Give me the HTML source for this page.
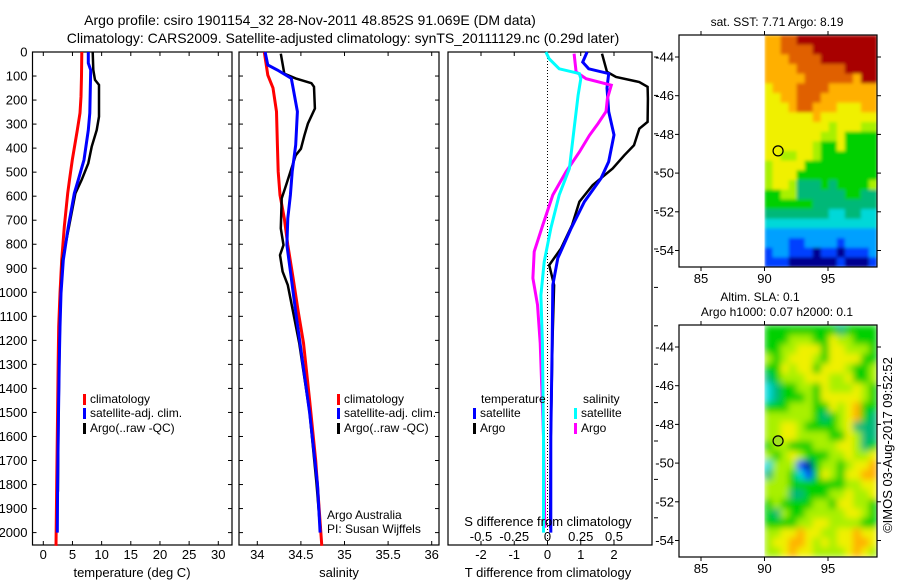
<!DOCTYPE html>
<html><head><meta charset="utf-8"><style>
html,body{margin:0;padding:0;background:#fff;}
svg{display:block;font-family:"Liberation Sans",sans-serif;}
text{fill:#000;}
</style></head><body>
<svg id="fig" width="900" height="580" viewBox="0 0 900 580" xmlns="http://www.w3.org/2000/svg">
<defs>
<filter id="blurS" x="0" y="0" width="1" height="1"><feGaussianBlur stdDeviation="1.5" edgeMode="duplicate"/></filter>
<filter id="blurL" x="0" y="0" width="1" height="1"><feGaussianBlur stdDeviation="3.5" edgeMode="duplicate"/></filter>
</defs>
<text x="310" y="25" font-size="14" text-anchor="middle">Argo profile: csiro 1901154_32 28-Nov-2011 48.852S 91.069E (DM data)</text>
<text x="343" y="43" font-size="14" text-anchor="middle">Climatology: CARS2009. Satellite-adjusted climatology: synTS_20111129.nc (0.29d later)</text>
<g id="g1"></g>
<g id="g2"></g>
<g id="g3"></g>
<g id="m1"></g>
<g id="m2"></g>
<text transform="translate(892,445) rotate(-90)" font-size="13" text-anchor="middle">©IMOS 03-Aug-2017 09:52:52</text>
</svg>
<script>
// ---- data ----
const depthTicks = [0,100,200,300,400,500,600,700,800,900,1000,1100,1200,1300,1400,1500,1600,1700,1800,1900,2000];
const tempTicks = [0,5,10,15,20,25,30];
const salTicks = [34,34.5,35,35.5,36];
const dTTicks = [-2,-1,0,1,2];
const dSTicks = [-0.5,-0.25,0,0.25,0.5];
const dSTickLabels = ["-0.5","-0.25","0","0.25","0.5"];
const latTicks = [-44,-46,-48,-50,-52,-54];
const lonTicks = [85,90,95];

const climTdepth = [0,100,186,254,325,449,532,588,727,866,1004,1143,1282,1500,1800,2055];
const climT = [6.6,6.55,6.46,6.29,5.83,4.98,4.5,4.18,3.6,3.15,2.86,2.64,2.55,2.45,2.3,2.18];
const satTdepth = [0,46,75,254,325,449,532,588,727,866,1004,1143,1282,1500,1800,2000];
const satT = [7.72,7.72,8.12,7.98,7.72,6.98,6.0,5.32,4.29,3.43,3.03,2.86,2.75,2.6,2.45,2.4];
const argoTdepth = [0,75,116,137,269,325,394,463,532,588,727,866,1004,1143,1500,1830];
const argoT = [8.47,8.58,8.86,9.55,9.55,9.15,8.3,7.72,6.58,5.5,4.4,3.3,3.0,2.85,2.6,2.5];

const climSdepth = [0,96,150,248,387,498,595,692,803,941,1082,1211,1448,1700,2055];
const climS = [34.08,34.12,34.18,34.22,34.23,34.24,34.26,34.31,34.35,34.41,34.47,34.53,34.60,34.67,34.74];
const satSdepth = [0,54,75,110,150,248,387,498,595,692,803,941,1082,1211,1500,1800,2000];
const satS = [34.09,34.12,34.23,34.39,34.41,34.46,34.44,34.40,34.38,34.35,34.34,34.39,34.44,34.49,34.6,34.69,34.72];
const argoSdepth = [7,90,110,130,145,235,298,347,403,430,498,554,609,734,803,845,914,970,1082,1211,1500,1800,1980];
const argoS = [34.27,34.31,34.44,34.62,34.65,34.66,34.58,34.54,34.50,34.44,34.38,34.33,34.28,34.27,34.30,34.26,34.29,34.35,34.41,34.48,34.6,34.68,34.72];

const satDTdepth = [0,42,70,90,150,248,345,456,526,623,734,858,970,1211,1600,2000];
const satDT = [1.19,1.06,1.24,1.84,1.79,1.84,2.0,1.84,1.61,1.11,0.71,0.31,0.16,0.14,0.1,0.1];
const argoDTdepth = [7,83,104,125,145,194,291,319,388,430,485,554,623,720,817,887,970,1200,1600,1980];
const argoDT = [1.64,1.79,2.06,2.76,3.01,3.02,3.01,2.76,2.6,2.31,1.96,1.36,0.96,0.74,0.41,0.05,0.2,0.15,0.1,0.08];
const satDSdepth = [0,28,70,90,111,180,319,485,595,734,873,1012,1211,1600,2000];
const satDS = [-0.012,0.012,0.088,0.24,0.25,0.23,0.2,0.165,0.088,0.025,-0.025,-0.05,-0.038,-0.03,-0.03];
const argoDSdepth = [7,83,111,138,194,248,298,347,416,498,595,720,831,941,1052,1211,1600,1980];
const argoDS = [0.2,0.215,0.29,0.48,0.45,0.44,0.38,0.315,0.24,0.14,0.04,-0.035,-0.1,-0.11,-0.075,-0.055,-0.03,-0.02];

const sstRows = [
"8899AAAAAAAAAA","889999AAAAAAAA","8889999AAAAAAA","8888999999AAAA",
"888889999998AA","78889999888888","77889998888888","77789988877788",
"77777787777777","77777777677766","77777776675555","77777765575555",
"77667765555555","67777555555555","67775555555555","67764445455556",
"55664444445544","55555544444444","44444444334433","33333333333333",
"22222222222222","22211222212222","12211101101112","11100000010001"];
const slaRows = [
"55555555545555","55566655766555","55667775776665","65677765777755",
"55767757776556","45666777667556","34556657666765","34555657777765",
"55566655767855","66666654567854","66776555567444","66776666557644",
"56655566677645","65676555667667","36661056656778","46653157657788",
"66655555556677","66644555667667","56555566577665","54655666667765",
"55556677666655","66778776677877","67788767677887","66787766667876"];
const floatLon = 91.069, floatLat = -48.852;

// ---- helpers ----
const NS="http://www.w3.org/2000/svg";
function mk(parent,tag,attrs,txt){const e=document.createElementNS(NS,tag);for(const k in attrs)e.setAttribute(k,attrs[k]);if(txt!==undefined)e.textContent=txt;parent.appendChild(e);return e;}
const TOP=52, BOT=545;
const yD = d => TOP + 0.2403*d;
const xT = t => 43.3 + 5.833*t;
const xS = s => 257.3 + 87.2*(s-34);
const xDT = v => 547.5 + 33.25*v;
const xDS = v => 547.5 + 33.25*4*v;

function frame(g,x0,x1,name){
  const r=mk(g,'rect',{x:x0,y:TOP,width:x1-x0,height:BOT-TOP,fill:'none',stroke:'#000','stroke-width':1.2});
  
  
}
function yTicks(g,x0,x1,labels){
  depthTicks.forEach(d=>{
    const y=yD(d);
    mk(g,'line',{x1:x0,x2:x0+4,y1:y,y2:y,stroke:'#000'});
    mk(g,'line',{x1:x1,x2:x1-4,y1:y,y2:y,stroke:'#000'});
    if(labels){const t=mk(g,'text',{x:x0-5,y:y+4.5,'font-size':13,'text-anchor':'end'},String(d));
      
      }
  });
}
function xTicks(g,vals,fx,labels,ly){
  vals.forEach((v,i)=>{
    const x=fx(v);
    mk(g,'line',{x1:x,x2:x,y1:TOP,y2:TOP+4,stroke:'#000'});
    mk(g,'line',{x1:x,x2:x,y1:BOT,y2:BOT-4,stroke:'#000'});
    const t=mk(g,'text',{x:x,y:ly,'font-size':13,'text-anchor':'middle'},labels?labels[i]:String(v));
    
    
  });
}
function series(g,depths,vals,fx,color,w,name){
  const pts=depths.map((d,i)=>fx(vals[i]).toFixed(1)+','+yD(d).toFixed(1)).join(' ');
  const p=mk(g,'polyline',{points:pts,fill:'none',stroke:color,'stroke-width':w,'stroke-linejoin':'miter'});
  
  
}
function legendEntry(g,x,y,color,label){
  const r=mk(g,'rect',{x:x,y:y-9,width:3,height:11,fill:color});
  
  
  const t=mk(g,'text',{x:x+7,y:y,'font-size':12},label);
  
  
}

// ---- panel 1 ----
const g1=document.getElementById('g1');
frame(g1,32.5,232,'temperature-axes');
yTicks(g1,32.5,232,true);
xTicks(g1,tempTicks,xT,null,559);
series(g1,climTdepth,climT,xT,'#ff0000',3,'climatology-temperature-line');
series(g1,argoTdepth,argoT,xT,'#000000',2.5,'argo-temperature-line');
series(g1,satTdepth,satT,xT,'#0000ff',3,'satellite-temperature-line');
let t=mk(g1,'text',{x:132,y:577,'font-size':13,'text-anchor':'middle'},'temperature (deg C)');


legendEntry(g1,83,403,'#ff0000','climatology');
legendEntry(g1,83,417,'#0000ff','satellite-adj. clim.');
legendEntry(g1,83,432,'#000000','Argo(..raw -QC)');

// ---- panel 2 ----
const g2=document.getElementById('g2');
frame(g2,239,439,'salinity-axes');
yTicks(g2,239,439,false);
xTicks(g2,salTicks,xS,null,559);
series(g2,climSdepth,climS,xS,'#ff0000',3,'climatology-salinity-line');
series(g2,argoSdepth,argoS,xS,'#000000',2.5,'argo-salinity-line');
series(g2,satSdepth,satS,xS,'#0000ff',3,'satellite-salinity-line');
t=mk(g2,'text',{x:339,y:577,'font-size':13,'text-anchor':'middle'},'salinity');


legendEntry(g2,337,403,'#ff0000','climatology');
legendEntry(g2,337,417,'#0000ff','satellite-adj. clim.');
legendEntry(g2,337,432,'#000000','Argo(..raw -QC)');
t=mk(g2,'text',{x:327,y:519,'font-size':12},'Argo Australia');


t=mk(g2,'text',{x:327,y:533,'font-size':12},'PI: Susan Wijffels');



// ---- panel 3 ----
const g3=document.getElementById('g3');
frame(g3,448,652,'difference-axes');
for(let y=57;y<545;y+=38.4){mk(g3,'line',{x1:654,x2:658,y1:y,y2:y,stroke:'#000'});}
xTicks(g3,dTTicks,xDT,null,559);
const zl=mk(g3,'line',{x1:xDT(0),x2:xDT(0),y1:TOP,y2:BOT,stroke:'#000','stroke-dasharray':'1,2'});


dSTicks.forEach((v,i)=>{
  const tt=mk(g3,'text',{x:xDS(v),y:541,'font-size':13,'text-anchor':'middle'},dSTickLabels[i]);
  
  
});
series(g3,argoDTdepth,argoDT,xDT,'#000000',2.5,'argo-t-difference-line');
series(g3,satDTdepth,satDT,xDT,'#0000ff',3,'satellite-t-difference-line');
series(g3,argoDSdepth,argoDS,xDS,'#ff00ff',3,'argo-s-difference-line');
series(g3,satDSdepth,satDS,xDS,'#00ffff',3,'satellite-s-difference-line');
t=mk(g3,'text',{x:548,y:526,'font-size':13,'text-anchor':'middle'},'S difference from climatology');


t=mk(g3,'text',{x:548,y:577,'font-size':13,'text-anchor':'middle'},'T difference from climatology');


t=mk(g3,'text',{x:481,y:403,'font-size':12},'temperature');


t=mk(g3,'text',{x:583,y:403,'font-size':12},'salinity');


legendEntry(g3,473,417,'#0000ff','satellite');
legendEntry(g3,473,432,'#000000','Argo');
legendEntry(g3,574,417,'#00ffff','satellite');
legendEntry(g3,574,432,'#ff00ff','Argo');

// ---- maps ----
const pal={'0':'#000090','1':'#0040ff','2':'#00a0ff','3':'#00d8d8','4':'#00b878','5':'#00d000','6':'#a8f000','7':'#f0f000','8':'#ffb000','9':'#e06000','A':'#a80000'};
function drawMap(g,top,rows,title1,title2,circleFill,name,blurId){
  const L=679,R=877,B=top+232;
  const lonX=lon=>701+(lon-85)*12.7;
  const latY=lat=>top+22+(-44-lat)*19.35;
  const dx0=lonX(90), cw=(R-dx0)/rows[0].length, ch=(B-top)/rows.length;
  const cg=mk(g,'g',{filter:'url(#'+blurId+')'});
  
  
  rows.forEach((row,ri)=>{
    for(let ci=0;ci<row.length;ci++){
      const c=mk(cg,'rect',{x:(dx0+ci*cw).toFixed(2),y:(top+ri*ch).toFixed(2),width:(cw+0.5).toFixed(2),height:(ch+0.5).toFixed(2),fill:pal[row[ci]]});
      
      
    }
  });
  const fr=mk(g,'rect',{x:L,y:top,width:R-L,height:B-top,fill:'none',stroke:'#000','stroke-width':1.2});
  
  
  lonTicks.forEach(lon=>{
    const x=lonX(lon);
    mk(g,'line',{x1:x,x2:x,y1:top,y2:top-4,stroke:'#000'});
    mk(g,'line',{x1:x,x2:x,y1:B,y2:B+4,stroke:'#000'});
    const tt=mk(g,'text',{x:x,y:B+16,'font-size':13,'text-anchor':'middle'},String(lon));
    
    
  });
  latTicks.forEach(lat=>{
    const y=latY(lat);
    mk(g,'line',{x1:L,x2:L-4,y1:y,y2:y,stroke:'#000'});
    mk(g,'line',{x1:R,x2:R+4,y1:y,y2:y,stroke:'#000'});
    const tt=mk(g,'text',{x:L-5,y:y+4.5,'font-size':13,'text-anchor':'end'},String(lat));
    
    
  });
  const ci=mk(g,'circle',{cx:lonX(floatLon),cy:latY(floatLat),r:5,fill:circleFill,stroke:'#000','stroke-width':1.2});
  
  
  if(title2){
    let a=mk(g,'text',{x:760,y:top-24,'font-size':12,'text-anchor':'middle'},title1);
    
    
    a=mk(g,'text',{x:777,y:top-9,'font-size':12,'text-anchor':'middle'},title2);
    
    
  } else {
    const a=mk(g,'text',{x:777,y:top-9,'font-size':12,'text-anchor':'middle'},title1);
    
    
  }
}
drawMap(document.getElementById('m1'),35,sstRows,'sat. SST: 7.71 Argo: 8.19',null,'none','sst-map','blurS');
drawMap(document.getElementById('m2'),325,slaRows,'Altim. SLA: 0.1','Argo h1000: 0.07 h2000: 0.1','#a0e020','sla-map','blurL');
</script>
</body></html>
